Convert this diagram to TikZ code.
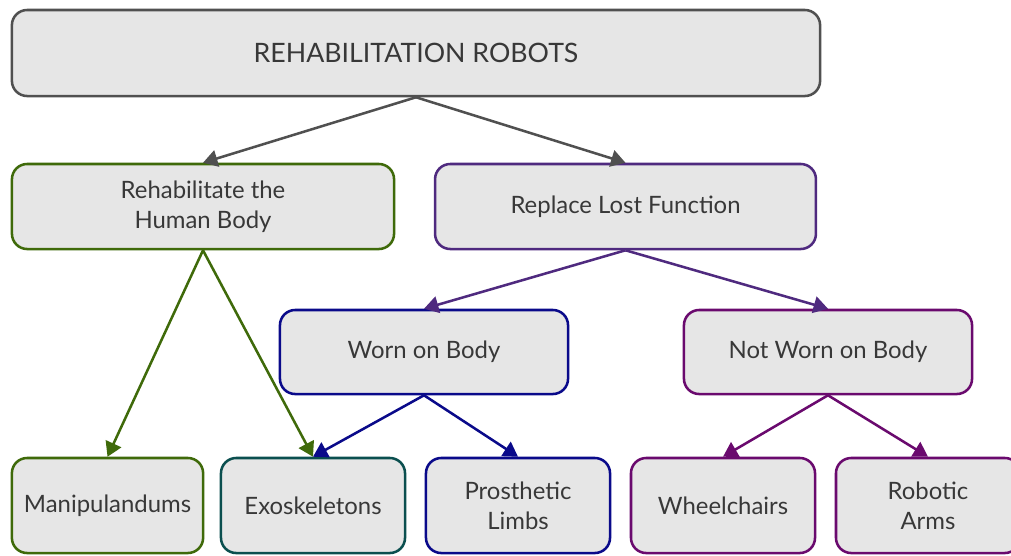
\documentclass[tikz,border=0pt]{standalone}
\usepackage{fontspec}
\setmainfont{Lato}
\usetikzlibrary{arrows.meta}
\definecolor{boxfill}{HTML}{E6E6E6}
\definecolor{txtgrey}{HTML}{383838}
\definecolor{rootgrey}{HTML}{505050}
\definecolor{rehabgreen}{HTML}{3F6A0A}
\definecolor{replpurple}{HTML}{4F2A7F}
\definecolor{wornblue}{HTML}{0A0A8A}
\definecolor{notwornpurple}{HTML}{6A0A6E}
\definecolor{exoteal}{HTML}{0B4F4F}
\tikzset{
  box/.style={draw, line width=1.8pt, rounded corners=0.38cm, fill=boxfill,
    text=txtgrey, align=center, font=\fontsize{17}{21.5}\selectfont, inner sep=0pt},
  link/.style={line width=1.8pt, -{Triangle[length=0.36cm,width=0.42cm]}}
}
\begin{document}
\begin{tikzpicture}[x=0.025cm,y=-0.025cm]
    \useasboundingbox (0,0) rectangle (1011,555);
    % root
    \node[box, draw=rootgrey, minimum width=20.2cm, minimum height=2.15cm,
      font=\fontsize{19}{23}\selectfont] (root) at (416,53) {REHABILITATION ROBOTS};
    % second level
    \node[box, draw=rehabgreen, minimum width=9.55cm, minimum height=2.125cm] (rehab) at (203,206.5) {Rehabilitate the\\Human Body};
    \node[box, draw=replpurple, minimum width=9.52cm, minimum height=2.125cm] (repl) at (625.5,206.5) {Replace Lost Function};
    % third level
    \node[box, draw=wornblue, minimum width=7.2cm, minimum height=2.1cm] (worn) at (424,352) {Worn on Body};
    \node[box, draw=notwornpurple, minimum width=7.2cm, minimum height=2.1cm] (notworn) at (828,352) {Not Worn on Body};
    % leaves
    \node[box, draw=rehabgreen, minimum width=4.78cm, minimum height=2.375cm] (manip) at (107.5,505.5) {Manipulandums};
    \node[box, draw=exoteal, minimum width=4.6cm, minimum height=2.375cm] (exo) at (313,505.5) {Exoskeletons};
    \node[box, draw=wornblue, minimum width=4.6cm, minimum height=2.375cm] (prost) at (518,505.5) {Prosthetic\\Limbs};
    \node[box, draw=notwornpurple, minimum width=4.6cm, minimum height=2.375cm] (wheel) at (723,505.5) {Wheelchairs};
    \node[box, draw=notwornpurple, minimum width=4.6cm, minimum height=2.375cm] (arms) at (928,505.5) {Robotic\\Arms};
    % links
    \draw[link, rootgrey] (root.south) -- (rehab.north);
    \draw[link, rootgrey] (root.south) -- (repl.north);
    \draw[link, rehabgreen] (rehab.south) -- (manip.north);
    \draw[link, rehabgreen] (rehab.south) -- (exo.north);
    \draw[link, replpurple] (repl.south) -- (worn.north);
    \draw[link, replpurple] (repl.south) -- (notworn.north);
    \draw[link, wornblue] (worn.south) -- (exo.north);
    \draw[link, wornblue] (worn.south) -- (prost.north);
    \draw[link, notwornpurple] (notworn.south) -- (wheel.north);
    \draw[link, notwornpurple] (notworn.south) -- (arms.north);
\end{tikzpicture}
\end{document}
